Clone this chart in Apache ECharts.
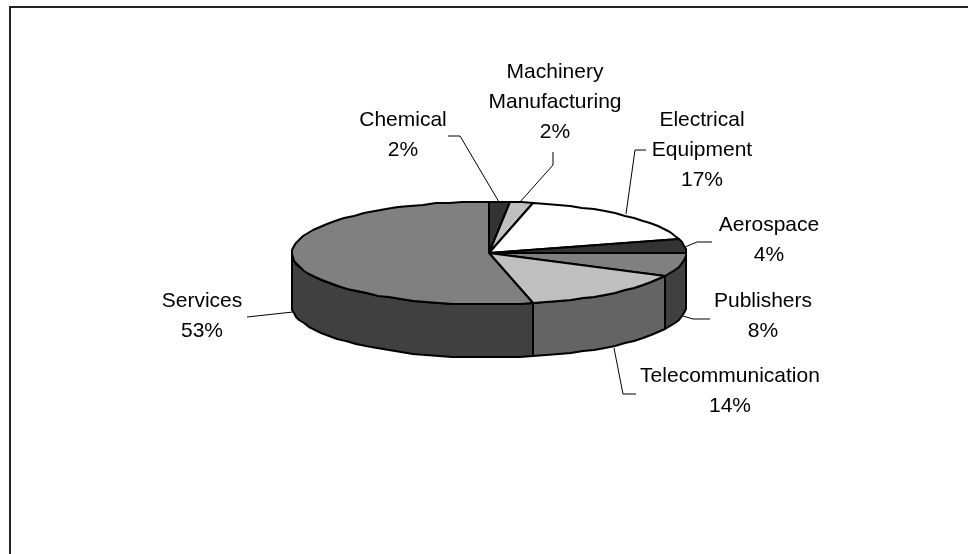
<!DOCTYPE html>
<html>
<head>
<meta charset="utf-8">
<style>html,body{margin:0;padding:0;background:#fff}#c{width:968px;height:554px}</style>
<script src="https://cdn.jsdelivr.net/npm/echarts@6/dist/echarts.min.js"></script>
</head>
<body>
<div id="c"></div>
<script>
const categories = ['Chemical', 'Machinery\nManufacturing', 'Electrical\nEquipment', 'Aerospace', 'Publishers', 'Telecommunication', 'Services'];
const shares = [1.7, 1.9, 17.0, 4.4, 7.5, 13.9, 53.6];
const percentLabels = ['2%', '2%', '17%', '4%', '8%', '14%', '53%'];

// Appearance and layout, kept apart from the data.
const topColors = ['#333333', '#C0C0C0', '#FFFFFF', '#333333', '#808080', '#C0C0C0', '#808080'];
const sideColors = ['#1f1f1f', '#606060', '#a0a0a0', '#1f1f1f', '#404040', '#646464', '#404040'];
const pie = { cx: 489, cy: 253, rx: 197, ry: 51.5, depth: 53, facet: 4 };
const labelCenters = [[403, 120], [555, 72], [702, 120], [769, 225], [763, 301], [730, 376], [202, 301]];
const leaders = [
  [[448, 136], [460, 136], [499, 202]],
  [[553, 152], [553, 165], [520, 202]],
  [[646, 150], [635, 150], [626, 214]],
  [[712, 242], [697, 242], [685, 247]],
  [[683, 316], [693, 319], [710, 319]],
  [[614, 348], [623, 394], [636, 394]],
  [[293, 312], [247, 317]]
];
const fontSize = 21, lineStep = 30.3;

let running = 0;
const ranges = shares.map(v => { const r = [running, running + v]; running += v; return r; });
const total = running;

function rimPoint(deg, dy) {
  const a = deg * Math.PI / 180;
  return [Math.round(pie.cx + pie.rx * Math.sin(a)), Math.round(pie.cy - pie.ry * Math.cos(a) + (dy || 0))];
}
function rimArc(a0, a1, dy) {
  const pts = [];
  const n = Math.max(1, Math.ceil((a1 - a0) / pie.facet));
  for (let i = 0; i <= n; i++) pts.push(rimPoint(a0 + (a1 - a0) * i / n, dy));
  return pts;
}
const edge = { stroke: '#000', lineWidth: 2, lineJoin: 'round' };

function renderItem(params, api) {
  const i = params.dataIndex;
  const a0 = api.value(0) / total * 360, a1 = api.value(1) / total * 360;
  const children = [];
  // Visible wall: only the front half of the rim (90..270 degrees) shows.
  const s0 = Math.max(a0, 90), s1 = Math.min(a1, 270);
  if (s1 > s0) {
    const upper = rimArc(s0, s1, 0), lower = rimArc(s0, s1, pie.depth).reverse();
    children.push({ type: 'polygon', shape: { points: upper.concat(lower) },
      style: Object.assign({ fill: sideColors[i] }, edge) });
  }
  children.push({ type: 'polygon', shape: { points: [[pie.cx, pie.cy]].concat(rimArc(a0, a1, 0)) },
    style: Object.assign({ fill: topColors[i] }, edge) });
  return { type: 'group', children };
}

function renderLabel(params) {
  const i = params.dataIndex;
  const c = labelCenters[i];
  const lines = categories[i].split('\n').concat(percentLabels[i]);
  const kids = [{ type: 'polyline', shape: { points: leaders[i] },
    style: { stroke: '#000', lineWidth: 1, fill: null } }];
  lines.forEach((t, k) => kids.push({ type: 'text', x: c[0], y: c[1] + k * lineStep,
    style: { text: t, fill: '#000', font: fontSize + 'px "Liberation Sans", Arial, sans-serif',
      align: 'center', verticalAlign: 'middle' } }));
  return { type: 'group', children: kids };
}

const chart = echarts.init(document.getElementById('c'), null, { renderer: 'canvas' });
chart.setOption({
  animation: false,
  backgroundColor: '#fff',
  graphic: [{ type: 'polyline', silent: true,
    shape: { points: [[10, 554], [10, 7], [968, 7]] },
    style: { stroke: '#222', lineWidth: 2, fill: null } }],
  series: [
    { type: 'custom', coordinateSystem: 'none', renderItem, data: ranges, silent: true, z: 2 },
    { type: 'custom', coordinateSystem: 'none', renderItem: renderLabel, data: categories.map((n, i) => ({ name: n, value: [i] })), silent: true, z: 3 }
  ]
});
</script>
</body>
</html>
